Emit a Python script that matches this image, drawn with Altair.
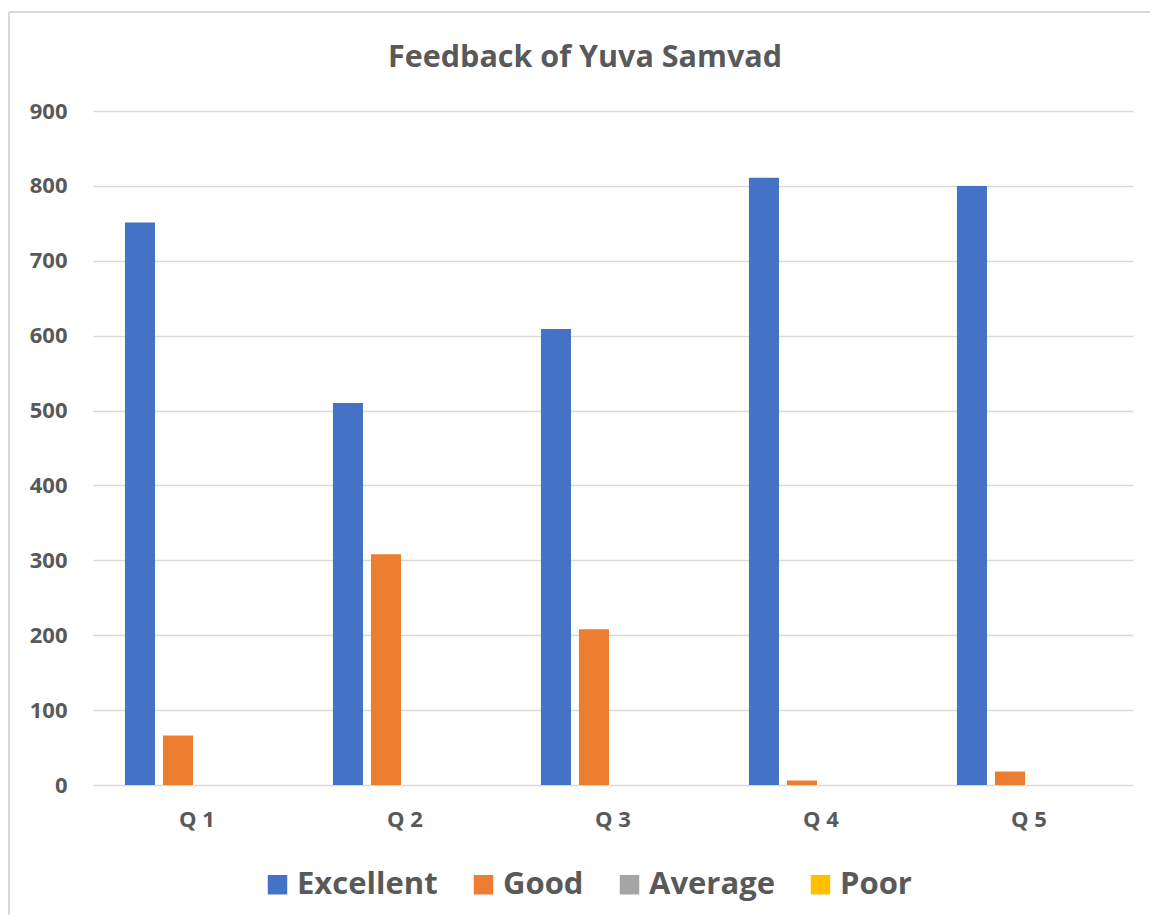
import altair as alt
import pandas as pd

categories = ["Q 1", "Q 2", "Q 3", "Q 4", "Q 5"]
series = ["Excellent", "Good", "Average", "Poor"]
excellent = [751, 510, 609, 811, 800]
good = [66, 308, 208, 6, 18]
average = [0, 0, 0, 0, 0]
poor = [0, 0, 0, 0, 0]
colors = ["#4472C4", "#ED7D31", "#A5A5A5", "#FFC000"]
title_text = "Feedback of Yuva Samvad"

rows = []
for s, vals in zip(series, [excellent, good, average, poor]):
    for c, v in zip(categories, vals):
        rows.append({"Question": c, "Rating": s, "Count": v})
df = pd.DataFrame(rows)

FONT = "Open Sans"
GREY = "#595959"

bars = alt.Chart(df).mark_bar().encode(
    x=alt.X("Question:N", sort=categories, title=None,
            scale=alt.Scale(paddingInner=0, paddingOuter=0),
            axis=alt.Axis(labelAngle=0, ticks=False, domain=False,
                          labelFont=FONT, labelFontSize=22, labelFontWeight="bold",
                          labelColor=GREY, labelPadding=24)),
    xOffset=alt.XOffset("Rating:N", sort=series,
                        scale=alt.Scale(paddingInner=0.21, paddingOuter=0.84)),
    y=alt.Y("Count:Q", title=None,
            scale=alt.Scale(domain=[0, 900], nice=False),
            axis=alt.Axis(values=list(range(0, 901, 100)), ticks=False, domain=False,
                          gridColor="#D9D9D9", gridWidth=1.5,
                          labelFont=FONT, labelFontSize=22, labelFontWeight="bold",
                          labelColor=GREY, labelPadding=26)),
    color=alt.Color("Rating:N", sort=series,
                    scale=alt.Scale(domain=series, range=colors),
                    legend=alt.Legend(title=None, orient="none", direction="horizontal",
                                      legendX=169, legendY=758,
                                      symbolType="square", symbolSize=380,
                                      symbolStrokeWidth=0,
                                      labelFont=FONT, labelFontSize=31,
                                      labelFontWeight="bold", labelColor=GREY,
                                      labelOffset=4, columnPadding=30)),
)

title = alt.Chart(pd.DataFrame({"t": [title_text]})).mark_text(
    font=FONT, fontSize=30.5, fontWeight="bold", color=GREY,
    align="center", baseline="middle"
).encode(text="t:N", x=alt.value(492), y=alt.value(-53))

border_top = alt.Chart(df).mark_rule(color="#D9D9D9", strokeWidth=1.5).encode(
    x=alt.value(-84), x2=alt.value(1060), y=alt.value(-99)
)
border_left = alt.Chart(df).mark_rule(color="#D9D9D9", strokeWidth=1.5).encode(
    x=alt.value(-84), y=alt.value(-99), y2=alt.value(810)
)

chart = alt.layer(bars, title, border_top, border_left).properties(
    width=1040, height=674,
    autosize=alt.AutoSizeParams(type="none"),
    padding={"left": 85, "top": 103, "right": 17, "bottom": 130},
    background="white",
).configure_view(stroke=None)

chart.save("out.html", embed_options={"renderer": "svg", "actions": False})
